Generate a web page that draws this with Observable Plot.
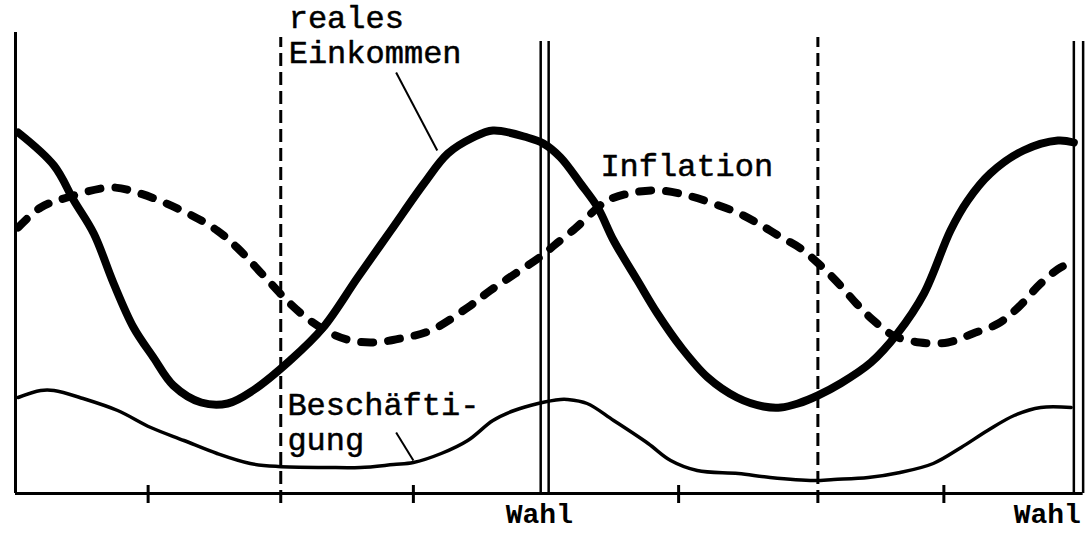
<!DOCTYPE html>
<html>
<head>
<meta charset="utf-8">
<script src="https://cdn.jsdelivr.net/npm/d3@7"></script>
<script src="https://cdn.jsdelivr.net/npm/@observablehq/plot@0.6"></script>
<style>
  html, body { margin: 0; padding: 0; background: #fff; }
  #chart svg { display: block; }
</style>
</head>
<body>
<div id="chart"></div>
<script>
// time axis: two legislative periods (0..8), elections ("Wahl") at 4 and 8
// values: height above the baseline (arbitrary units)
const realIncomeX = [0.02,0.29,0.44,0.59,0.74,0.89,1.04,1.19,1.40,1.60,1.79,2.07,2.32,2.58,2.83,3.08,3.26,3.45,3.60,3.86,3.98,4.11,4.26,4.39,4.51,4.69,4.84,5.02,5.22,5.44,5.64,5.77,5.90,6.05,6.22,6.45,6.65,6.85,7.05,7.18,7.35,7.60,7.86,7.98];
const realIncomeY = [361,328,293,260,210,166,136,108,91,90,103,133,166,216,263,310,340,356,363,356,350,336,310,286,253,213,180,146,116,96,87,86,90,98,110,131,160,200,263,293,320,343,353,351];

const inflationX = [0.02,0.19,0.39,0.72,0.94,1.30,1.52,1.67,1.87,2.07,2.22,2.38,2.53,2.70,2.90,3.13,3.41,3.58,3.77,3.96,4.07,4.22,4.39,4.46,4.66,4.86,5.07,5.26,5.44,5.60,5.75,5.92,6.07,6.22,6.34,6.47,6.62,6.82,7.03,7.22,7.41,7.56,7.73,7.88,7.98];
const inflationY = [266,286,296,306,300,280,263,246,218,190,173,160,153,151,155,163,186,203,220,237,249,265,286,293,301,303,298,290,281,270,258,245,228,208,190,173,158,151,151,160,170,186,210,226,231];

const employmentX = [0.02,0.19,0.29,0.51,0.77,1.02,1.27,1.52,1.77,1.98,2.35,2.60,2.85,3.00,3.21,3.41,3.60,3.76,3.94,4.11,4.16,4.31,4.51,4.77,4.94,5.14,5.45,5.69,6.02,6.17,6.43,6.67,6.92,7.13,7.33,7.53,7.73,7.96];
const employmentY = [96,103,103,95,83,66,53,40,30,27,26,26,29,31,40,53,73,83,90,94,94,90,73,50,33,23,20,16,13,14,16,21,30,46,63,78,86,86];

// frame elements
const leftLineX = [0];
const midTermLines = [2, 6.05];                 // dashed verticals
const electionLines = [3.96, 4.02, 7.98, 8.05]; // double verticals
const tickPositions = [1, 3, 5, 7];
const electionLabels = ["Wahl", "Wahl"];
const electionLabelX = [3.95, 7.78];

// annotations
const labelText = ["reales\nEinkommen", "Inflation", "Beschäfti-\ngung"];
const labelX = [2.06, 4.41, 2.05];
const labelY = [431, 318, 44];
const labelLineHeight = [1.09, 1, 1.09];
const pointerX1 = [2.87, 2.87], pointerY1 = [421, 61];
const pointerX2 = [3.18, 3.00], pointerY2 = [343, 33];

const toPts = (xs, ys) => xs.map((x, i) => ({x, y: ys[i]}));
const realIncome = toPts(realIncomeX, realIncomeY);
const inflation = toPts(inflationX, inflationY);
const employment = toPts(employmentX, employmentY);
const pointers = pointerX1.map((x1, i) => ({x1, y1: pointerY1[i], x2: pointerX2[i], y2: pointerY2[i]}));
const wahl = electionLabels.map((t, i) => ({t, x: electionLabelX[i]}));

const font = "'Liberation Mono', 'DejaVu Sans Mono', monospace";

const labelMarks = labelText.map((t, i) =>
  Plot.text([{t, x: labelX[i], y: labelY[i]}], {
    x: "x", y: "y", text: "t", textAnchor: "start", lineAnchor: "bottom",
    lineHeight: labelLineHeight[i], fontSize: 32, fill: "#000",
    stroke: "#000", strokeWidth: 0.5, fontFamily: font
  })
);

const chart = Plot.plot({
  width: 1089,
  height: 538,
  marginLeft: 15,
  marginRight: 13,
  marginTop: 0,
  marginBottom: 45,
  x: {domain: [0, 8], axis: null},
  y: {domain: [0, 493], axis: null},
  style: {background: "#fff", fontFamily: font},
  marks: [
    // baseline axis
    Plot.ruleY([0], {x1: 0, x2: 8.05, stroke: "#000", strokeWidth: 3}),
    // left boundary
    Plot.ruleX(leftLineX, {y1: 0, y2: 461, stroke: "#000", strokeWidth: 3}),
    // mid-term dashed lines
    Plot.ruleX(midTermLines, {y1: -10, y2: 456, stroke: "#000", strokeWidth: 3, strokeDasharray: "13 6"}),
    // election double lines
    Plot.ruleX(electionLines, {y1: 0, y2: 452, stroke: "#000", strokeWidth: 2.5}),
    // ticks
    Plot.ruleX(tickPositions, {y1: -10, y2: 8, stroke: "#000", strokeWidth: 3}),
    // curves
    Plot.line(employment, {x: "x", y: "y", curve: "catmull-rom", stroke: "#000", strokeWidth: 3.5}),
    Plot.line(inflation, {x: "x", y: "y", curve: "catmull-rom", stroke: "#000", strokeWidth: 8, strokeDasharray: "12 15", strokeLinecap: "round"}),
    Plot.line(realIncome, {x: "x", y: "y", curve: "catmull-rom", stroke: "#000", strokeWidth: 8, strokeLinecap: "round"}),
    // pointers
    Plot.link(pointers, {x1: "x1", y1: "y1", x2: "x2", y2: "y2", stroke: "#000", strokeWidth: 2}),
    // labels
    ...labelMarks,
    Plot.text(wahl, {x: "x", y: -29, text: "t", textAnchor: "middle", lineAnchor: "bottom", fontSize: 28, fontWeight: "bold", fill: "#000", fontFamily: font})
  ]
});

document.getElementById("chart").appendChild(chart);
</script>
</body>
</html>
